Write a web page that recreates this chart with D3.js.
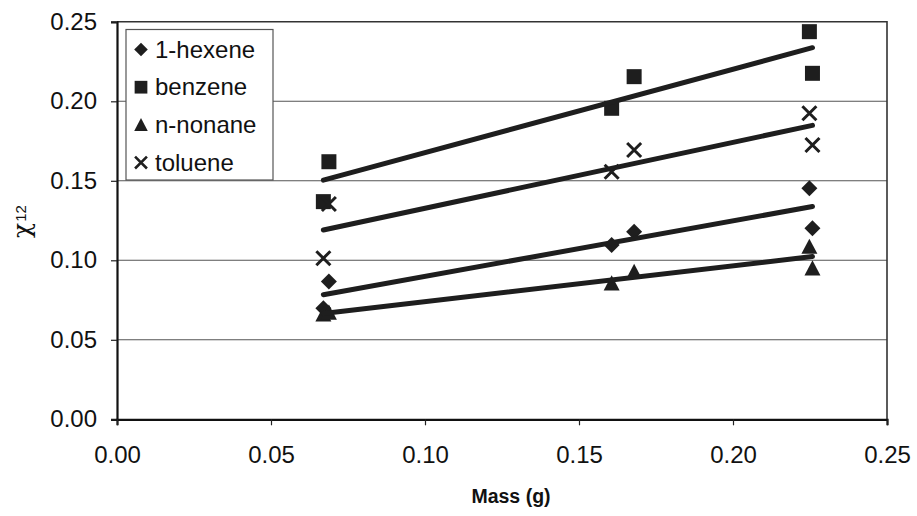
<!DOCTYPE html>
<html>
<head>
<meta charset="utf-8">
<script src="https://cdn.jsdelivr.net/npm/d3@7"></script>
<style>
  body { margin: 0; background: #fff; }
  text { font-family: "Liberation Sans", Arial, sans-serif; fill: #111; }
</style>
</head>
<body>
<svg id="svg" width="917" height="516"></svg>
<script>
// mass of sample (g), same x for every series
const mass = [0.0670, 0.0688, 0.1606, 0.1679, 0.2248, 0.2258];

const hexene = [0.0698, 0.0866, 0.1096, 0.1180, 0.1453, 0.1201];
const benzene = [0.1369, 0.1620, 0.1956, 0.2155, 0.2438, 0.2176];
const nonane = [0.0660, 0.0672, 0.0855, 0.0928, 0.1086, 0.0950];
const toluene = [0.1013, 0.1354, 0.1557, 0.1694, 0.1925, 0.1725];

const seriesNames = ['1-hexene', 'benzene', 'n-nonane', 'toluene'];
const xTicks = [0, 0.05, 0.10, 0.15, 0.20, 0.25];
const yTicks = [0, 0.05, 0.10, 0.15, 0.20, 0.25];

const ink = '#1e1e1e';
const plotLeft = 117, plotRight = 887, plotTop = 21.8, plotBottom = 419.3;

const svg = d3.select('#svg');
svg.append('rect').attr('width', 917).attr('height', 516).attr('fill', '#fff');

const x = d3.scaleLinear().domain([0, 0.25]).range([plotLeft, plotRight]);
const y = d3.scaleLinear().domain([0, 0.25]).range([plotBottom, plotTop]);

// custom marker shapes, size = half width squared
const diamond = {draw(c, s) { const r = Math.sqrt(s); c.moveTo(0, -r); c.lineTo(r, 0); c.lineTo(0, r); c.lineTo(-r, 0); c.closePath(); }};
const square = {draw(c, s) { const r = Math.sqrt(s); c.rect(-r, -r, 2 * r, 2 * r); }};
const triangle = {draw(c, s) { const r = Math.sqrt(s); c.moveTo(0, -r); c.lineTo(r, r * 0.9); c.lineTo(-r, r * 0.9); c.closePath(); }};
const cross = {draw(c, s) { const r = Math.sqrt(s); c.moveTo(-r, -r); c.lineTo(r, r); c.moveTo(r, -r); c.lineTo(-r, r); }};

const series = [
  {name: seriesNames[0], values: hexene, type: diamond, r: 8, stroke: false},
  {name: seriesNames[1], values: benzene, type: square, r: 7.5, stroke: false},
  {name: seriesNames[2], values: nonane, type: triangle, r: 8, stroke: false},
  {name: seriesNames[3], values: toluene, type: cross, r: 7, stroke: true}
];

// gridlines
svg.append('g').
selectAll('line').
data(yTicks.filter(d => d > 0 && d < 0.25)).
enter().
append('line').
attr('x1', plotLeft).
attr('x2', plotRight).
attr('y1', d => y(d)).
attr('y2', d => y(d)).
attr('stroke', '#555').
attr('stroke-width', 1.1);

// frame top / right
svg.append('path').
attr('d', `M${plotLeft},${plotTop}H${plotRight}V${plotBottom}`).
attr('fill', 'none').
attr('stroke', '#333').
attr('stroke-width', 1.6);

const fmt = d3.format('.2f');

const yAxis = svg.append('g').
attr('transform', `translate(${plotLeft},0)`).
call(d3.axisLeft(y).tickValues(yTicks).tickFormat(fmt).tickSize(6).tickPadding(14));

const xAxis = svg.append('g').
attr('transform', `translate(0,${plotBottom})`).
call(d3.axisBottom(x).tickValues(xTicks).tickFormat(fmt).tickSize(6).tickPadding(21));

[yAxis, xAxis].forEach(a => {
  a.select('.domain').attr('stroke', '#111').attr('stroke-width', 2.2);
  a.selectAll('.tick line').attr('stroke', '#222').attr('stroke-width', 1.2);
  a.selectAll('.tick text').
  style('font-family', '"Liberation Sans", Arial, sans-serif').
  style('font-size', '24px').
  attr('fill', '#111');
});

// least squares trend line over the data range
function fit(xs, ys) {
  const mx = d3.mean(xs), my = d3.mean(ys);
  const sxy = d3.sum(xs, (v, i) => (v - mx) * (ys[i] - my));
  const sxx = d3.sum(xs, v => (v - mx) * (v - mx));
  const b = sxy / sxx, a = my - b * mx;
  const x0 = d3.min(xs), x1 = d3.max(xs);
  return [[x0, a + b * x0], [x1, a + b * x1]];
}

const line = d3.line().x(d => x(d[0])).y(d => y(d[1]));

series.forEach(s => {
  const pts = s.values.map((v, i) => [mass[i], v]);
  const g = svg.append('g');
  g.selectAll('path').
  data(pts).
  enter().
  append('path').
  attr('transform', d => `translate(${x(d[0])},${y(d[1])})`).
  attr('d', d3.symbol().type(s.type).size(s.r * s.r)).
  attr('fill', s.stroke ? 'none' : ink).
  attr('stroke', s.stroke ? ink : 'none').
  attr('stroke-width', 3);

  svg.append('path').
  datum(fit(mass, s.values)).
  attr('d', line).
  attr('fill', 'none').
  attr('stroke', ink).
  attr('stroke-width', 5).
  attr('stroke-linecap', 'round');
});

// legend
const legend = svg.append('g');
legend.append('rect').
attr('x', 126).
attr('y', 29.5).
attr('width', 147).
attr('height', 150.5).
attr('fill', '#fff').
attr('stroke', '#555').
attr('stroke-width', 1.2);

const rows = legend.selectAll('g.row').
data(series).
enter().
append('g').
attr('class', 'row').
attr('transform', (d, i) => `translate(141,${49.5 + i * 37.7})`);

rows.append('path').
attr('d', d => d3.symbol().type(d.type).size(d.r * d.r * 0.72)()).
attr('fill', d => d.stroke ? 'none' : ink).
attr('stroke', d => d.stroke ? ink : 'none').
attr('stroke-width', 2.6);

rows.append('text').
attr('x', 14).
attr('y', 8).
style('font-size', '24px').
text(d => d.name);

// axis titles
svg.append('text').
attr('x', 511).
attr('y', 503).
attr('text-anchor', 'middle').
style('font-size', '19.5px').
style('font-weight', 'bold').
text('Mass (g)');

const yt = svg.append('text').
attr('transform', 'translate(30,238) rotate(-90)');
yt.append('tspan').
style('font-family', '"DejaVu Serif", "Liberation Serif", serif').
style('font-size', '25px').
text('χ');
yt.append('tspan').
attr('dx', 1).
attr('dy', -4).
style('font-size', '15px').
text('12');
</script>
</body>
</html>
